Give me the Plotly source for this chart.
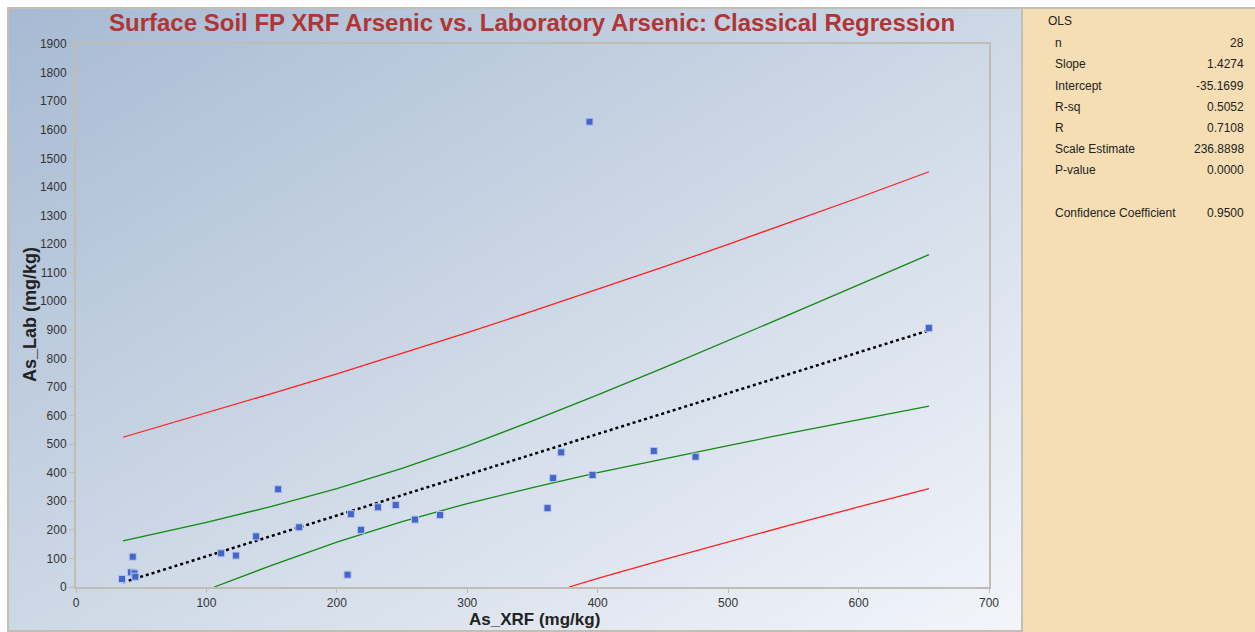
import base64
import plotly.graph_objects as go

# ---------------- data ----------------
xrf = [35.3, 43.5, 42.2, 44.8, 45.5, 111.3, 122.6, 138.1, 155.0, 171.1,
       210.8, 208.2, 218.5, 231.5, 245.1, 259.9, 279.1, 393.7, 372.0, 443.0,
       475.0, 365.8, 396.0, 361.5, 653.9]
lab = [28, 106, 51, 48, 36, 118, 110, 177, 342, 209,
       255, 43, 200, 279, 287, 236, 252, 1628, 471, 476,
       456, 381, 392, 276, 906]

reg_x = [36, 654]
reg_y = [16, 898]

band_x = [36, 100, 150, 200, 250, 300, 350, 400, 450, 500, 550, 600, 654]
conf_upper = [161, 226, 282, 344, 415, 494, 581, 672, 766, 862, 959, 1057, 1163]
pred_upper = [524, 609, 677, 746, 817, 890, 965, 1041, 1119, 1199, 1280, 1362, 1453]

conf_lower_x = [106, 150, 200, 250, 300, 350, 400, 450, 500, 550, 600, 654]
conf_lower = [0, 76, 157, 229, 292, 348, 400, 448, 495, 541, 585, 633]

pred_lower_x = [378, 400, 450, 500, 550, 600, 654]
pred_lower = [0, 30, 95, 158, 220, 280, 344]

stat_labels = ["n", "Slope", "Intercept", "R-sq", "R", "Scale Estimate", "P-value", "",
               "Confidence Coefficient"]
stat_values = ["28", "1.4274", "-35.1699", "0.5052", "0.7108", "236.8898", "0.0000", "",
               "0.9500"]

# ---------------- layout geometry ----------------
W, H = 1255, 632
L, R, T, B = 76, 989, 44, 587
PW, PH = R - L, B - T


def px(xp):
    return (xp - L) / PW


def py(yp):
    return (B - yp) / PH


FONT = "Liberation Sans, Arial, sans-serif"

fig = go.Figure()

fig.add_trace(go.Scatter(x=band_x, y=pred_upper, mode="lines",
                         line=dict(color="#ff2020", width=1.3), hoverinfo="skip"))
fig.add_trace(go.Scatter(x=pred_lower_x, y=pred_lower, mode="lines",
                         line=dict(color="#ff2020", width=1.3), hoverinfo="skip"))
fig.add_trace(go.Scatter(x=band_x, y=conf_upper, mode="lines",
                         line=dict(color="#118a11", width=1.3), hoverinfo="skip"))
fig.add_trace(go.Scatter(x=conf_lower_x, y=conf_lower, mode="lines",
                         line=dict(color="#118a11", width=1.3), hoverinfo="skip"))
fig.add_trace(go.Scatter(x=reg_x, y=reg_y, mode="lines",
                         line=dict(color="#000000", width=2.5, dash="dot"), hoverinfo="skip"))
fig.add_trace(go.Scatter(x=xrf, y=lab, mode="markers",
                         marker=dict(symbol="square", size=7, color="#4565c8",
                                     line=dict(color="#b4c4ee", width=1))))

# gradient background for the chart panel
svg = ('<svg xmlns="http://www.w3.org/2000/svg" width="1014" height="624" '
       'preserveAspectRatio="none" viewBox="0 0 1014 624">'
       '<defs><linearGradient id="g" x1="0" y1="0" x2="1" y2="1">'
       '<stop offset="0" stop-color="#a7bad3"/>'
       '<stop offset="0.5" stop-color="#cdd8e6"/>'
       '<stop offset="1" stop-color="#f3f5fb"/>'
       '</linearGradient></defs>'
       '<rect width="1014" height="624" fill="url(#g)"/></svg>')
src = "data:image/svg+xml;base64," + base64.b64encode(svg.encode()).decode()

fig.add_layout_image(dict(source=src, xref="paper", yref="paper",
                          x=px(8), y=py(8), sizex=(1022 - 8) / PW, sizey=(632 - 8) / PH,
                          xanchor="left", yanchor="top", sizing="stretch", layer="below"))

shapes = [
    dict(type="rect", xref="paper", yref="paper", x0=px(1023), x1=px(1255),
         y0=py(632), y1=py(8), fillcolor="#f5deb3", line=dict(width=0), layer="below"),
    dict(type="rect", xref="paper", yref="paper", x0=px(8), x1=px(1022),
         y0=py(631), y1=py(8), fillcolor="rgba(0,0,0,0)",
         line=dict(color="#c4bfb4", width=2), layer="below"),
    dict(type="line", xref="paper", yref="paper", x0=px(1023), x1=px(1255),
         y0=py(8), y1=py(8), line=dict(color="#c4bfb4", width=2)),
]

annotations = [
    dict(text="<b>Surface Soil FP XRF Arsenic vs. Laboratory Arsenic: Classical Regression</b>",
         xref="paper", yref="paper", x=px(532), y=py(22), showarrow=False,
         font=dict(family=FONT, size=24, color="#b03535"), xanchor="center", yanchor="middle"),
    dict(text="<b>As_XRF (mg/kg)</b>", xref="paper", yref="paper", x=px(534), y=py(619),
         showarrow=False, font=dict(family=FONT, size=17, color="#222222"),
         xanchor="center", yanchor="middle"),
    dict(text="<b>As_Lab (mg/kg)</b>", xref="paper", yref="paper", x=px(30), y=py(315),
         showarrow=False, textangle=-90, font=dict(family=FONT, size=18, color="#222222"),
         xanchor="center", yanchor="middle"),
    dict(text="OLS", xref="paper", yref="paper", x=px(1046), y=py(21), showarrow=False,
         font=dict(family=FONT, size=12, color="#222222"), xanchor="left", yanchor="middle"),
]

rows_y = [43, 64, 86, 107, 128, 149, 170, 191, 213]
for lbl, val, yy in zip(stat_labels, stat_values, rows_y):
    if lbl:
        annotations.append(dict(text=lbl, xref="paper", yref="paper", x=px(1053), y=py(yy),
                                showarrow=False, font=dict(family=FONT, size=12, color="#222222"),
                                xanchor="left", yanchor="middle"))
    if val:
        annotations.append(dict(text=val, xref="paper", yref="paper", x=px(1246), y=py(yy),
                                showarrow=False, font=dict(family=FONT, size=12, color="#222222"),
                                xanchor="right", yanchor="middle"))

fig.update_layout(
    width=W, height=H,
    margin=dict(l=L, r=W - R, t=T, b=H - B),
    paper_bgcolor="white",
    plot_bgcolor="rgba(0,0,0,0)",
    showlegend=False,
    shapes=shapes,
    annotations=annotations,
    font=dict(family=FONT, size=12, color="#333333"),
)
fig.update_xaxes(range=[0, 700], tickmode="linear", tick0=0, dtick=100,
                 showgrid=False, zeroline=False, showline=True, mirror=True,
                 linecolor="#c2bdb2", linewidth=2, ticks="outside", ticklen=4,
                 tickcolor="#c2bdb2", tickfont=dict(family=FONT, size=12, color="#333333"))
fig.update_yaxes(range=[0, 1900], tickmode="linear", tick0=0, dtick=100,
                 showgrid=False, zeroline=False, showline=True, mirror=True,
                 linecolor="#c2bdb2", linewidth=2, ticks="outside", ticklen=5,
                 tickcolor="#c2bdb2", tickfont=dict(family=FONT, size=12, color="#333333"))

fig.write_html("out.html", config={"displayModeBar": False},
               post_script="document.body.style.margin='0';document.body.style.overflow='hidden';")
